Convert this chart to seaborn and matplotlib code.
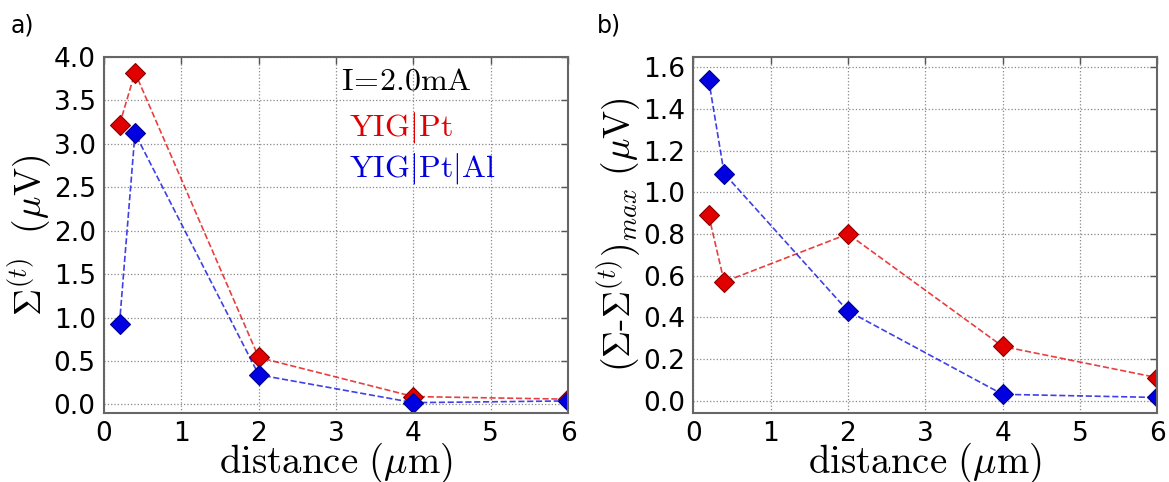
import matplotlib
matplotlib.use("Agg")
import matplotlib.pyplot as plt
import seaborn as sns
import pandas as pd

# distancias (um)
distance = [0.2, 0.4, 2.0, 4.0, 6.0]

# panel a) Sigma^(t) (uV)
sigma_pt = [3.22, 3.82, 0.54, 0.09, 0.06]
sigma_ptal = [0.93, 3.12, 0.34, 0.02, 0.04]

# panel b) (Sigma - Sigma^(t))_max (uV)
diff_pt = [0.89, 0.57, 0.80, 0.26, 0.11]
diff_ptal = [1.54, 1.09, 0.43, 0.03, 0.015]

series_names = ["YIG|Pt", "YIG|Pt|Al"]
series_colors = {"YIG|Pt": "#e00000", "YIG|Pt|Al": "#0000e0"}
edge_colors = {"YIG|Pt": "#8a0000", "YIG|Pt|Al": "#000090"}

sns.set_style("white")
plt.rcParams["mathtext.fontset"] = "cm"
plt.rcParams["font.family"] = ["DejaVu Sans"]
plt.rcParams["text.color"] = "black"
plt.rcParams["axes.labelcolor"] = "black"
plt.rcParams["xtick.color"] = "black"
plt.rcParams["ytick.color"] = "black"

df_a = pd.DataFrame({"distance": distance * 2,
                     "value": sigma_pt + sigma_ptal,
                     "muestra": [series_names[0]] * 5 + [series_names[1]] * 5})
df_b = pd.DataFrame({"distance": distance * 2,
                     "value": diff_pt + diff_ptal,
                     "muestra": [series_names[0]] * 5 + [series_names[1]] * 5})

fig = plt.figure(figsize=(11.69, 4.82), dpi=100)
ax_a = fig.add_axes([0.089, 0.143, 0.397, 0.739])
ax_b = fig.add_axes([0.593, 0.143, 0.397, 0.739])


def draw_panel(ax, df, ylim, yticks, ylabel):
    for name in series_names:
        sub = df[df["muestra"] == name]
        sns.lineplot(data=sub, x="distance", y="value", ax=ax,
                     color=series_colors[name], linestyle="--", linewidth=1.2,
                     alpha=0.75, marker=None)
        ax.plot(sub["distance"], sub["value"], linestyle="none", marker="D",
                markersize=10.5, color=series_colors[name],
                markeredgecolor=edge_colors[name], markeredgewidth=0.8)
    ax.set_xlim(0, 6)
    ax.set_ylim(*ylim)
    ax.set_yticks(yticks)
    ax.set_yticklabels([f"{v:.1f}" for v in yticks])
    ax.set_xticks(range(0, 7))
    ax.grid(True, color="#888888", linestyle=":", linewidth=0.9)
    ax.tick_params(direction="in", length=5, width=1, labelsize=19,
                   top=True, right=True, pad=6, color="#555555",
                   labelcolor="black")
    for sp in ax.spines.values():
        sp.set_color("#666666")
        sp.set_linewidth(1.5)
    ax.set_xlabel(r"$\mathrm{distance}\ (\mu\mathrm{m})$", fontsize=28, labelpad=-5)
    ax.set_ylabel(ylabel, fontsize=27, labelpad=0)


draw_panel(ax_a, df_a, (-0.1, 4.0), [0.0, 0.5, 1.0, 1.5, 2.0, 2.5, 3.0, 3.5, 4.0],
           r"$\Sigma^{(t)}\ \ (\mu\mathrm{V})$")
draw_panel(ax_b, df_b, (-0.06, 1.65), [0.0, 0.2, 0.4, 0.6, 0.8, 1.0, 1.2, 1.4, 1.6],
           r"$(\Sigma\text{-}\Sigma^{(t)})_{max}\ (\mu\mathrm{V})$")

# textos del panel a)
ax_a.text(3.06, 3.63, r"$\mathrm{I\!=\!2.0mA}$", fontsize=23, color="black")
ax_a.text(3.17, 3.10, r"$\mathrm{YIG|Pt}$", fontsize=23, color=series_colors["YIG|Pt"])
ax_a.text(3.17, 2.62, r"$\mathrm{YIG|Pt|Al}$", fontsize=23, color=series_colors["YIG|Pt|Al"])

fig.text(0.009, 0.972, "a)", fontsize=17, va="top")
fig.text(0.511, 0.972, "b)", fontsize=17, va="top")

fig.savefig("out.png", dpi=100)
